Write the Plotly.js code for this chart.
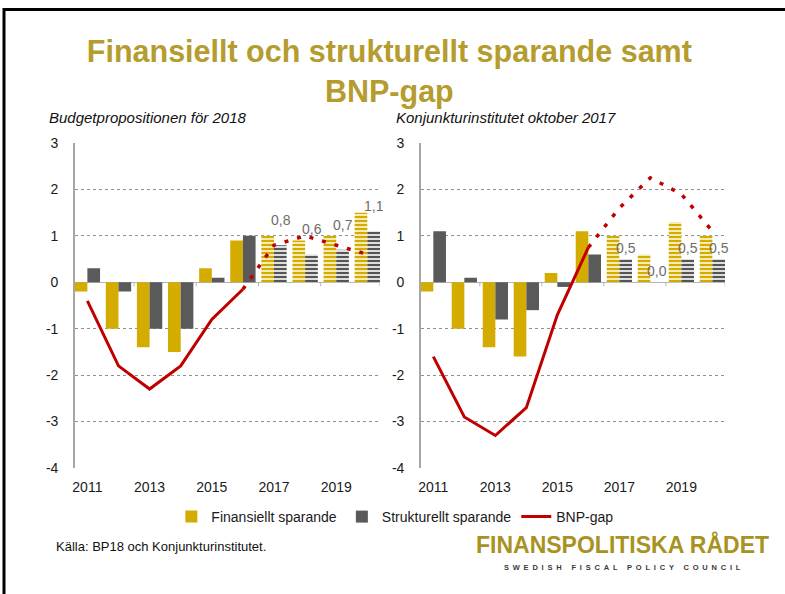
<!DOCTYPE html>
<html><head><meta charset="utf-8">
<script src="https://cdn.plot.ly/plotly-3.0.1.min.js"></script>
<style>
html,body{margin:0;padding:0;background:#fff;}
#chart{width:785px;height:594px;}
.annotation[data-index="4"] .annotation-text{letter-spacing:3.8px;}
</style>
</head><body><div id="chart"></div>
<script>
// ---- data ----
const years = [2011, 2012, 2013, 2014, 2015, 2016, 2017, 2018, 2019, 2020];
const xTickYears = [2011, 2013, 2015, 2017, 2019];
const yTickVals = [-4, -3, -2, -1, 0, 1, 2, 3];
const lastOutcomeYear = 2016;
const labelYears = [2017, 2018, 2019, 2020];

// Budgetpropositionen för 2018
const finBP = [-0.2, -1.0, -1.4, -1.5, 0.3, 0.9, 1.0, 0.9, 1.0, 1.5];
const strBP = [0.3, -0.2, -1.0, -1.0, 0.1, 1.0, 0.8, 0.6, 0.7, 1.1];
const gapBP = [-0.4, -1.8, -2.3, -1.8, -0.8, -0.15, 0.8, 1.0, 0.8, 0.6];

// Konjunkturinstitutet oktober 2017
const finKI = [-0.2, -1.0, -1.4, -1.6, 0.2, 1.1, 1.0, 0.6, 1.3, 1.0];
const strKI = [1.1, 0.1, -0.8, -0.6, -0.1, 0.6, 0.5, 0.0, 0.5, 0.5];
const gapKI = [-1.6, -2.9, -3.3, -2.7, -0.7, 0.75, 1.6, 2.25, 1.9, 1.1];

const legendNames = ['Finansiellt sparande', 'Strukturellt sparande', 'BNP-gap'];
const subtitles = ['Budgetpropositionen för 2018', 'Konjunkturinstitutet oktober 2017'];

// ---- styling ----
const FONT = 'Liberation Sans, Arial, sans-serif';
const GOLD = '#d4ac00', GREY = '#5a5a5a', RED = '#c00000';
const bargap = 0.185;
const half = (1 - bargap) / 2;
const xRange = [years[0] - half, years[years.length - 1] + half];

function patternShapes() {
  return years.map(y => y > lastOutcomeYear ? '-' : '');
}

function buildTraces(fin, str, gap, xa, ya, showLeg) {
  const pat = patternShapes();
  const solidX = [], solidY = [], dotX = [], dotY = [];
  years.forEach((y, i) => {
    if (y <= lastOutcomeYear) { solidX.push(y); solidY.push(gap[i]); }
    if (y >= lastOutcomeYear) { dotX.push(y); dotY.push(gap[i]); }
  });
  return [
    {type: 'bar', x: years, y: fin, xaxis: xa, yaxis: ya, name: legendNames[0], showlegend: showLeg,
     legendgroup: 'f', marker: {color: GOLD, line: {width: 0},
       pattern: {shape: pat, fgcolor: GOLD, bgcolor: '#f7ebb5', size: 4, solidity: 0.5, fillmode: 'replace'}}},
    {type: 'bar', x: years, y: str, xaxis: xa, yaxis: ya, name: legendNames[1], showlegend: showLeg,
     legendgroup: 's', marker: {color: GREY, line: {width: 0},
       pattern: {shape: pat, fgcolor: '#555555', bgcolor: '#dedede', size: 4, solidity: 0.5, fillmode: 'replace'}}},
    {type: 'scatter', mode: 'lines', x: solidX, y: solidY, xaxis: xa, yaxis: ya, name: legendNames[2],
     showlegend: showLeg, legendgroup: 'g', line: {color: RED, width: 3}},
    {type: 'scatter', mode: 'lines', x: dotX, y: dotY, xaxis: xa, yaxis: ya, showlegend: false,
     line: {color: RED, width: 3.5, dash: '4px,9px'}}
  ];
}

const data = [].concat(
  buildTraces(finBP, strBP, gapBP, 'x', 'y', true),
  buildTraces(finKI, strKI, gapKI, 'x2', 'y2', false)
);

const yDomain = [1 - 468 / 594, 1 - 143 / 594];
const xAxisBase = {
  range: xRange, tickvals: xTickYears, ticktext: xTickYears.map(String), ticks: '',
  showgrid: false, zeroline: false, showline: false, fixedrange: true,
  tickfont: {family: FONT, size: 14, color: '#1a1a1a'}, ticklabelstandoff: 9
};
const yAxisBase = {
  range: [-4, 3], tickvals: yTickVals, ticktext: yTickVals.map(String), ticks: '',
  showgrid: true, gridcolor: '#8f8f8f', griddash: 'dot', gridwidth: 1,
  zeroline: true, zerolinecolor: '#b3b3b3', zerolinewidth: 1.5,
  showline: true, linecolor: '#a6a6a6', linewidth: 1.5, fixedrange: true,
  tickfont: {family: FONT, size: 14, color: '#1a1a1a'}, ticklabelstandoff: 12, domain: yDomain
};

const fmt = v => v.toFixed(1).replace('.', ',');
const annotations = [
  {xref: 'paper', yref: 'paper', x: 47 / 785, y: 1 - 117 / 594, xanchor: 'left', yanchor: 'middle', showarrow: false,
   text: '<i>' + subtitles[0] + '</i>', font: {family: FONT, size: 15, color: '#111'}},
  {xref: 'paper', yref: 'paper', x: 394 / 785, y: 1 - 117 / 594, xanchor: 'left', yanchor: 'middle', showarrow: false,
   text: '<i>' + subtitles[1] + '</i>', font: {family: FONT, size: 15, color: '#111'}},
  {xref: 'paper', yref: 'paper', x: 54 / 785, y: 1 - 546 / 594, xanchor: 'left', yanchor: 'middle', showarrow: false,
   text: 'Källa: BP18 och Konjunkturinstitutet.', font: {family: FONT, size: 13, color: '#111'}},
  {xref: 'paper', yref: 'paper', x: 622 / 785, y: 1 - 544 / 594, xanchor: 'center', yanchor: 'middle', showarrow: false,
   text: '<b>FINANSPOLITISKA RÅDET</b>', font: {family: FONT, size: 23, color: '#a89222'}},
  {xref: 'paper', yref: 'paper', x: 624 / 785, y: 1 - 567 / 594, xanchor: 'center', yanchor: 'middle', showarrow: false,
   text: '<b>SWEDISH FISCAL POLICY COUNCIL</b>', font: {family: FONT, size: 7.5, color: '#3a3a3a'}}
];
[[strBP, 'x', 'y', 25], [strKI, 'x2', 'y2', 11]].forEach(([arr, xa, ya, shift]) => {
  labelYears.forEach(yr => {
    const v = arr[years.indexOf(yr)];
    annotations.push({xref: xa, yref: ya, x: yr, y: v, xshift: 7, yshift: shift, showarrow: false,
      xanchor: 'center', yanchor: 'middle', text: fmt(v), font: {family: FONT, size: 14, color: '#6d6d6d'}});
  });
});

const shapes = [
  {type: 'line', xref: 'paper', yref: 'paper', x0: 4 / 785, x1: 1.05, y0: 1 - 9.5 / 594, y1: 1 - 9.5 / 594,
   line: {color: '#000', width: 3}},
  {type: 'line', xref: 'paper', yref: 'paper', x0: 4 / 785, x1: 4 / 785, y0: -0.05, y1: 1 - 8 / 594,
   line: {color: '#000', width: 3}}
];
[['x', 'y'], ['x2', 'y2']].forEach(([xa, ya]) => {
  xTickYears.forEach(yr => {
    const v = Math.min(yr + 1.5, xRange[1]);
    shapes.push({type: 'line', xref: xa, yref: ya, x0: v, x1: v, ysizemode: 'pixel', yanchor: 0, y0: 0, y1: -4,
      line: {color: '#b3b3b3', width: 1}});
  });
});

const layout = {
  width: 785, height: 594, margin: {l: 0, r: 0, t: 0, b: 0},
  paper_bgcolor: '#fff', plot_bgcolor: 'rgba(0,0,0,0)',
  font: {family: FONT},
  title: {text: '<b>Finansiellt och strukturellt sparande samt<br>BNP-gap</b>',
    font: {family: FONT, size: 30.5, color: '#b59c2e'}, x: 0.496, xanchor: 'center',
    y: 1 - 62 / 594, yanchor: 'top', yref: 'container'},
  barmode: 'group', bargap: bargap, bargroupgap: 0,
  xaxis: Object.assign({}, xAxisBase, {domain: [74.7 / 785, 380 / 785], anchor: 'y'}),
  yaxis: Object.assign({}, yAxisBase, {anchor: 'x'}),
  xaxis2: Object.assign({}, xAxisBase, {domain: [420.7 / 785, 725 / 785], anchor: 'y2'}),
  yaxis2: Object.assign({}, yAxisBase, {anchor: 'x2'}),
  showlegend: true,
  legend: {orientation: 'h', x: 0.503, xanchor: 'center', y: 1 - 517 / 594, yanchor: 'middle',
    font: {family: FONT, size: 14, color: '#1a1a1a'}, bgcolor: 'rgba(0,0,0,0)', itemwidth: 30, traceorder: 'normal'},
  annotations: annotations, shapes: shapes, hovermode: false
};

Plotly.newPlot('chart', data, layout, {staticPlot: true, displayModeBar: false});
</script>
</body></html>
